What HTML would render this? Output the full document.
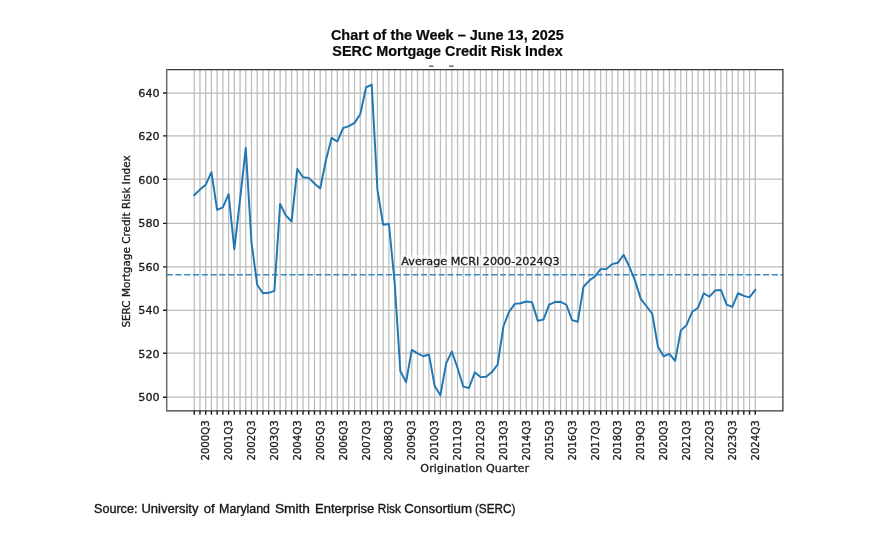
<!DOCTYPE html>
<html lang="en"><head><meta charset="utf-8"><title>Chart of the Week</title>
<style>html,body{margin:0;padding:0;background:#fff}body{width:883px;height:539px;overflow:hidden}svg{display:block;filter:blur(0.45px)}.dv{font-family:"DejaVu Sans","Liberation Sans",sans-serif;font-size:10.35px;fill:#1c1c1c;stroke:#1c1c1c;stroke-width:0.3px}.tt{font-family:"Liberation Sans",sans-serif;font-weight:bold;font-size:14.47px;fill:#0a0a0a;stroke:#0a0a0a;stroke-width:0.2px}.src{font-family:"Liberation Sans",sans-serif;font-size:12.93px;fill:#1a1a1a;stroke:#111;stroke-width:0.35px}</style></head><body>
<svg width="883" height="539" viewBox="0 0 883 539">
<rect width="883" height="539" fill="#fff"/>
<text class="tt" x="447.4" y="39.6" text-anchor="middle">Chart of the Week – June 13, 2025</text>
<text class="tt" style="font-size:14.4px" x="447.5" y="56.4" text-anchor="middle">SERC Mortgage Credit Risk Index</text>
<rect x="429.1" y="65.6" width="4.5" height="1.1" fill="#333"/><rect x="449.1" y="65.6" width="4.5" height="1.1" fill="#333"/>
<path d="M194.25 69.6V410.8M199.97 69.6V410.8M205.70 69.6V410.8M211.42 69.6V410.8M217.15 69.6V410.8M222.87 69.6V410.8M228.60 69.6V410.8M234.32 69.6V410.8M240.05 69.6V410.8M245.77 69.6V410.8M251.50 69.6V410.8M257.22 69.6V410.8M262.94 69.6V410.8M268.67 69.6V410.8M274.39 69.6V410.8M280.12 69.6V410.8M285.84 69.6V410.8M291.57 69.6V410.8M297.29 69.6V410.8M303.02 69.6V410.8M308.74 69.6V410.8M314.46 69.6V410.8M320.19 69.6V410.8M325.91 69.6V410.8M331.64 69.6V410.8M337.36 69.6V410.8M343.09 69.6V410.8M348.81 69.6V410.8M354.54 69.6V410.8M360.26 69.6V410.8M365.99 69.6V410.8M371.71 69.6V410.8M377.43 69.6V410.8M383.16 69.6V410.8M388.88 69.6V410.8M394.61 69.6V410.8M400.33 69.6V410.8M406.06 69.6V410.8M411.78 69.6V410.8M417.51 69.6V410.8M423.23 69.6V410.8M428.95 69.6V410.8M434.68 69.6V410.8M440.40 69.6V410.8M446.13 69.6V410.8M451.85 69.6V410.8M457.58 69.6V410.8M463.30 69.6V410.8M469.03 69.6V410.8M474.75 69.6V410.8M480.48 69.6V410.8M486.20 69.6V410.8M491.92 69.6V410.8M497.65 69.6V410.8M503.37 69.6V410.8M509.10 69.6V410.8M514.82 69.6V410.8M520.55 69.6V410.8M526.27 69.6V410.8M532.00 69.6V410.8M537.72 69.6V410.8M543.44 69.6V410.8M549.17 69.6V410.8M554.89 69.6V410.8M560.62 69.6V410.8M566.34 69.6V410.8M572.07 69.6V410.8M577.79 69.6V410.8M583.52 69.6V410.8M589.24 69.6V410.8M594.96 69.6V410.8M600.69 69.6V410.8M606.41 69.6V410.8M612.14 69.6V410.8M617.86 69.6V410.8M623.59 69.6V410.8M629.31 69.6V410.8M635.04 69.6V410.8M640.76 69.6V410.8M646.49 69.6V410.8M652.21 69.6V410.8M657.93 69.6V410.8M663.66 69.6V410.8M669.38 69.6V410.8M675.11 69.6V410.8M680.83 69.6V410.8M686.56 69.6V410.8M692.28 69.6V410.8M698.01 69.6V410.8M703.73 69.6V410.8M709.46 69.6V410.8M715.18 69.6V410.8M720.90 69.6V410.8M726.63 69.6V410.8M732.35 69.6V410.8M738.08 69.6V410.8M743.80 69.6V410.8M749.53 69.6V410.8M755.25 69.6V410.8" stroke="#bcbcbc" stroke-width="1.25" fill="none"/>
<path d="M166.7 397.20H782.9M166.7 353.20H782.9M166.7 310.30H782.9M166.7 266.90H782.9M166.7 223.40H782.9M166.7 179.20H782.9M166.7 135.90H782.9M166.7 93.00H782.9" stroke="#bcbcbc" stroke-width="1.25" fill="none"/>
<path d="M166.7 274.77H782.9" stroke="#3a8ac4" stroke-width="1.7" stroke-dasharray="6.1 2.67" fill="none"/>
<polyline points="194.25,195.02 199.97,189.59 205.70,184.81 211.42,172.21 217.15,209.80 222.87,207.41 228.60,194.16 234.32,249.35 240.05,199.37 245.77,148.09 251.50,242.61 257.22,284.76 262.94,293.24 268.67,292.80 274.39,290.85 280.12,203.93 285.84,215.45 291.57,221.53 297.29,168.95 303.02,177.21 308.74,177.86 314.46,183.51 320.19,188.51 325.91,160.26 331.64,137.88 337.36,141.57 343.09,128.10 348.81,126.14 354.54,122.89 360.26,114.19 365.99,87.47 371.71,84.64 377.43,189.59 383.16,224.79 388.88,223.92 394.61,281.94 400.33,371.03 406.06,382.11 411.78,349.95 417.51,353.43 423.23,356.25 428.95,354.51 434.68,386.02 440.40,395.36 446.13,363.42 451.85,351.47 457.58,367.98 463.30,386.67 469.03,387.97 474.75,372.33 480.48,377.11 486.20,376.68 491.92,372.11 497.65,364.51 503.37,326.48 509.10,311.71 514.82,303.88 520.55,303.23 526.27,301.49 532.00,302.15 537.72,320.83 543.44,319.53 549.17,304.54 554.89,302.04 560.62,301.82 566.34,304.75 572.07,320.18 577.79,321.70 583.52,286.72 589.24,280.63 594.96,276.29 600.69,269.12 606.41,269.12 612.14,264.12 617.86,262.82 623.59,254.78 629.31,266.51 635.04,280.63 640.76,298.89 646.49,306.27 652.21,313.66 657.93,346.69 663.66,356.25 669.38,353.86 675.11,360.81 680.83,330.61 686.56,324.96 692.28,311.71 698.01,307.80 703.73,293.24 709.46,296.71 715.18,290.41 720.90,289.98 726.63,304.54 732.35,306.93 738.08,293.24 743.80,295.84 749.53,297.37 755.25,289.98" stroke="#1f77b4" stroke-width="1.95" fill="none" stroke-linejoin="round" stroke-linecap="square"/>
<rect x="400.3" y="255.2" width="158.6" height="11" fill="#fff" opacity="0.6"/>
<text class="dv" transform="translate(401.3 264.8) scale(1.08 1)">Average MCRI 2000-2024Q3</text>
<path d="M166.7 69.6H782.9V410.8H166.7" fill="none" stroke="#363636" stroke-width="1.25" stroke-linecap="square"/>
<path d="M166.7 69.1V411.3" fill="none" stroke="#6a6a6a" stroke-width="1.5"/>
<path d="M194.25 410.8v3.9M199.97 410.8v3.9M205.70 410.8v3.9M211.42 410.8v3.9M217.15 410.8v3.9M222.87 410.8v3.9M228.60 410.8v3.9M234.32 410.8v3.9M240.05 410.8v3.9M245.77 410.8v3.9M251.50 410.8v3.9M257.22 410.8v3.9M262.94 410.8v3.9M268.67 410.8v3.9M274.39 410.8v3.9M280.12 410.8v3.9M285.84 410.8v3.9M291.57 410.8v3.9M297.29 410.8v3.9M303.02 410.8v3.9M308.74 410.8v3.9M314.46 410.8v3.9M320.19 410.8v3.9M325.91 410.8v3.9M331.64 410.8v3.9M337.36 410.8v3.9M343.09 410.8v3.9M348.81 410.8v3.9M354.54 410.8v3.9M360.26 410.8v3.9M365.99 410.8v3.9M371.71 410.8v3.9M377.43 410.8v3.9M383.16 410.8v3.9M388.88 410.8v3.9M394.61 410.8v3.9M400.33 410.8v3.9M406.06 410.8v3.9M411.78 410.8v3.9M417.51 410.8v3.9M423.23 410.8v3.9M428.95 410.8v3.9M434.68 410.8v3.9M440.40 410.8v3.9M446.13 410.8v3.9M451.85 410.8v3.9M457.58 410.8v3.9M463.30 410.8v3.9M469.03 410.8v3.9M474.75 410.8v3.9M480.48 410.8v3.9M486.20 410.8v3.9M491.92 410.8v3.9M497.65 410.8v3.9M503.37 410.8v3.9M509.10 410.8v3.9M514.82 410.8v3.9M520.55 410.8v3.9M526.27 410.8v3.9M532.00 410.8v3.9M537.72 410.8v3.9M543.44 410.8v3.9M549.17 410.8v3.9M554.89 410.8v3.9M560.62 410.8v3.9M566.34 410.8v3.9M572.07 410.8v3.9M577.79 410.8v3.9M583.52 410.8v3.9M589.24 410.8v3.9M594.96 410.8v3.9M600.69 410.8v3.9M606.41 410.8v3.9M612.14 410.8v3.9M617.86 410.8v3.9M623.59 410.8v3.9M629.31 410.8v3.9M635.04 410.8v3.9M640.76 410.8v3.9M646.49 410.8v3.9M652.21 410.8v3.9M657.93 410.8v3.9M663.66 410.8v3.9M669.38 410.8v3.9M675.11 410.8v3.9M680.83 410.8v3.9M686.56 410.8v3.9M692.28 410.8v3.9M698.01 410.8v3.9M703.73 410.8v3.9M709.46 410.8v3.9M715.18 410.8v3.9M720.90 410.8v3.9M726.63 410.8v3.9M732.35 410.8v3.9M738.08 410.8v3.9M743.80 410.8v3.9M749.53 410.8v3.9M755.25 410.8v3.9M166.7 397.20h-3.7M166.7 353.20h-3.7M166.7 310.30h-3.7M166.7 266.90h-3.7M166.7 223.40h-3.7M166.7 179.20h-3.7M166.7 135.90h-3.7M166.7 93.00h-3.7" stroke="#1c1c1c" stroke-width="1.4" fill="none"/>
<text class="dv" transform="translate(159.7 401.05) scale(1.08 1)" text-anchor="end">500</text>
<text class="dv" transform="translate(159.7 357.59) scale(1.08 1)" text-anchor="end">520</text>
<text class="dv" transform="translate(159.7 314.14) scale(1.08 1)" text-anchor="end">540</text>
<text class="dv" transform="translate(159.7 270.68) scale(1.08 1)" text-anchor="end">560</text>
<text class="dv" transform="translate(159.7 227.22) scale(1.08 1)" text-anchor="end">580</text>
<text class="dv" transform="translate(159.7 183.76) scale(1.08 1)" text-anchor="end">600</text>
<text class="dv" transform="translate(159.7 140.31) scale(1.08 1)" text-anchor="end">620</text>
<text class="dv" transform="translate(159.7 96.85) scale(1.08 1)" text-anchor="end">640</text>
<text class="dv" transform="translate(209.30 460.6) rotate(-90) scale(0.985 1.08)">2000Q3</text>
<text class="dv" transform="translate(232.20 460.6) rotate(-90) scale(0.985 1.08)">2001Q3</text>
<text class="dv" transform="translate(255.09 460.6) rotate(-90) scale(0.985 1.08)">2002Q3</text>
<text class="dv" transform="translate(277.99 460.6) rotate(-90) scale(0.985 1.08)">2003Q3</text>
<text class="dv" transform="translate(300.89 460.6) rotate(-90) scale(0.985 1.08)">2004Q3</text>
<text class="dv" transform="translate(323.79 460.6) rotate(-90) scale(0.985 1.08)">2005Q3</text>
<text class="dv" transform="translate(346.69 460.6) rotate(-90) scale(0.985 1.08)">2006Q3</text>
<text class="dv" transform="translate(369.59 460.6) rotate(-90) scale(0.985 1.08)">2007Q3</text>
<text class="dv" transform="translate(392.48 460.6) rotate(-90) scale(0.985 1.08)">2008Q3</text>
<text class="dv" transform="translate(415.38 460.6) rotate(-90) scale(0.985 1.08)">2009Q3</text>
<text class="dv" transform="translate(438.28 460.6) rotate(-90) scale(0.985 1.08)">2010Q3</text>
<text class="dv" transform="translate(461.18 460.6) rotate(-90) scale(0.985 1.08)">2011Q3</text>
<text class="dv" transform="translate(484.08 460.6) rotate(-90) scale(0.985 1.08)">2012Q3</text>
<text class="dv" transform="translate(506.97 460.6) rotate(-90) scale(0.985 1.08)">2013Q3</text>
<text class="dv" transform="translate(529.87 460.6) rotate(-90) scale(0.985 1.08)">2014Q3</text>
<text class="dv" transform="translate(552.77 460.6) rotate(-90) scale(0.985 1.08)">2015Q3</text>
<text class="dv" transform="translate(575.67 460.6) rotate(-90) scale(0.985 1.08)">2016Q3</text>
<text class="dv" transform="translate(598.56 460.6) rotate(-90) scale(0.985 1.08)">2017Q3</text>
<text class="dv" transform="translate(621.46 460.6) rotate(-90) scale(0.985 1.08)">2018Q3</text>
<text class="dv" transform="translate(644.36 460.6) rotate(-90) scale(0.985 1.08)">2019Q3</text>
<text class="dv" transform="translate(667.26 460.6) rotate(-90) scale(0.985 1.08)">2020Q3</text>
<text class="dv" transform="translate(690.16 460.6) rotate(-90) scale(0.985 1.08)">2021Q3</text>
<text class="dv" transform="translate(713.06 460.6) rotate(-90) scale(0.985 1.08)">2022Q3</text>
<text class="dv" transform="translate(735.95 460.6) rotate(-90) scale(0.985 1.08)">2023Q3</text>
<text class="dv" transform="translate(758.85 460.6) rotate(-90) scale(0.985 1.08)">2024Q3</text>
<text class="dv" transform="translate(474.7 472.3) scale(1.08 1)" text-anchor="middle">Origination Quarter</text>
<text class="dv" transform="translate(130.4 241.5) rotate(-90) scale(1.01 1.08)" text-anchor="middle">SERC Mortgage Credit Risk Index</text>
<text class="src" y="512.8"><tspan x="94.1" textLength="43.3" lengthAdjust="spacingAndGlyphs">Source:</tspan> <tspan x="141.4" textLength="57.1" lengthAdjust="spacingAndGlyphs">University</tspan> <tspan x="203.7" textLength="10.9" lengthAdjust="spacingAndGlyphs">of</tspan> <tspan x="219.1" textLength="50.9" lengthAdjust="spacingAndGlyphs">Maryland</tspan> <tspan x="274.9" textLength="35.1" lengthAdjust="spacingAndGlyphs">Smith</tspan> <tspan x="315.0" textLength="59.3" lengthAdjust="spacingAndGlyphs">Enterprise</tspan> <tspan x="377.8" textLength="23.1" lengthAdjust="spacingAndGlyphs">Risk</tspan> <tspan x="404.2" textLength="67.8" lengthAdjust="spacingAndGlyphs">Consortium</tspan> <tspan x="474.9" textLength="40.6" lengthAdjust="spacingAndGlyphs">(SERC)</tspan></text>
</svg></body></html>
